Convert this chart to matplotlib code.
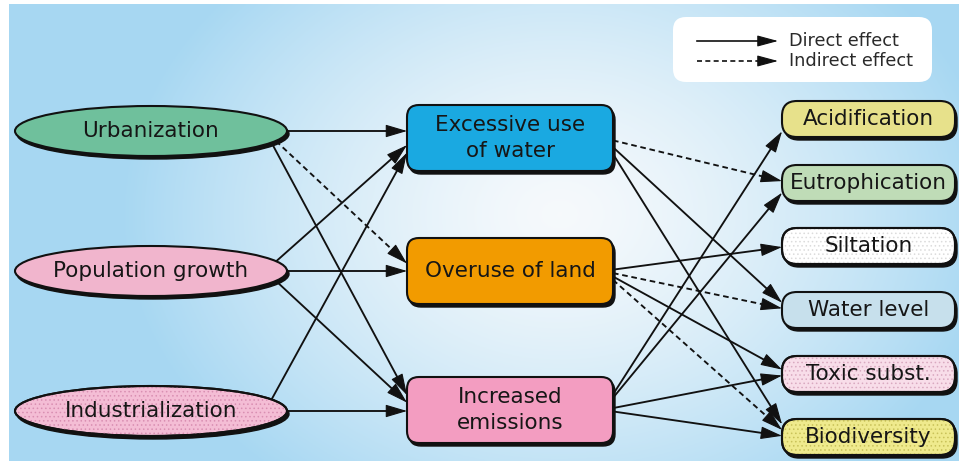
import numpy as np
import matplotlib
matplotlib.use("Agg")
import matplotlib.pyplot as plt
from matplotlib.patches import Ellipse, FancyBboxPatch

# ---------------- data ----------------
drivers = ["Urbanization", "Population growth", "Industrialization"]
pressures = ["Excessive use\nof water", "Overuse of land", "Increased\nemissions"]
effects = ["Acidification", "Eutrophication", "Siltation", "Water level",
           "Toxic subst.", "Biodiversity"]
# (driver index, pressure index, kind)  d = direct, i = indirect
driver_edges = [(0, 0, "d"), (0, 1, "i"), (0, 2, "d"),
                (1, 0, "d"), (1, 1, "d"), (1, 2, "d"),
                (2, 0, "d"), (2, 2, "d")]
# (pressure index, effect index, kind)
pressure_edges = [(0, 1, "i"), (0, 3, "d"), (0, 5, "d"),
                  (1, 2, "d"), (1, 3, "i"), (1, 4, "d"), (1, 5, "i"),
                  (2, 0, "d"), (2, 1, "d"), (2, 4, "d"), (2, 5, "d")]
legend_labels = ["Direct effect", "Indirect effect"]

# ---------------- style / layout ----------------
driver_colors = ["#6fc09c", "#f1b5cd", "#f4bdd5"]
driver_hatch = [None, None, "#d98fb2"]
pressure_colors = ["#1aa9e1", "#f29b00", "#f39dc1"]
effect_colors = ["#e7e18b", "#bfdcb7", "#ffffff", "#c7e0ec", "#f8dde9", "#efea8d"]
effect_hatch = [None, None, "#dcdcdc", None, "#d9a9c0", "#c9c25a"]

W, H = 959, 461
ell_cx, ell_w, ell_h = 151, 272, 50
ell_cy = [131, 271, 411]
mid_x0, mid_w, mid_h = 407, 206, 66
mid_cy = [138, 271, 410]
r_x0, r_w, r_h = 782, 173, 36
r_cy = [119, 183, 246, 310, 374, 437]

TXT = "#161616"
FONT = "DejaVu Sans"
FS = 15.5
plt.rcParams["hatch.linewidth"] = 0.6

fig = plt.figure(figsize=(W / 100, H / 100), dpi=100)
ax = fig.add_axes([0, 0, 1, 1])
ax.set_xlim(0, W)
ax.set_ylim(H, 0)
ax.axis("off")

# background radial gradient
gx, gy = np.meshgrid(np.linspace(9, W, 400), np.linspace(5, H, 200))
r = np.sqrt(((gx - 560) / 440) ** 2 + ((gy - 215) / 340) ** 2)
t = np.clip(r, 0, 1) ** 1.4
c0 = np.array([0.965, 0.978, 0.988])
c1 = np.array([0.655, 0.845, 0.95])
img = c0[None, None, :] * (1 - t[..., None]) + c1[None, None, :] * t[..., None]
ax.imshow(img, extent=(9, W, H, 5), origin="upper", aspect="auto", zorder=0)


def arrow(p0, p1, kind, lw=1.35):
    p0 = np.asarray(p0, float)
    p1 = np.asarray(p1, float)
    u = (p1 - p0) / np.hypot(*(p1 - p0))
    hl = 19
    end = p1 - u * hl * 0.6
    ls = "-" if kind == "d" else (0, (3, 2))
    ax.plot([p0[0], end[0]], [p0[1], end[1]], color="#111", lw=lw,
            linestyle=ls, zorder=2, solid_capstyle="butt")
    ax.annotate("", xy=p1, xytext=p1 - u * hl,
                arrowprops=dict(arrowstyle="-|>,head_length=1.35,head_width=0.4",
                                mutation_scale=10, lw=0.8, color="#111",
                                shrinkA=0, shrinkB=0), zorder=3)


def rbox(x0, y0, w, h, rs, fc, hatch=None, z=4):
    style = f"round,pad=0,rounding_size={rs}"
    ax.add_patch(FancyBboxPatch((x0 + 2, y0 + 3), w, h, boxstyle=style,
                                fc="#111", ec="#111", lw=1.0, zorder=z))
    ax.add_patch(FancyBboxPatch((x0, y0), w, h, boxstyle=style,
                                fc=fc, ec="#111", lw=1.5, zorder=z + 0.1))
    if hatch:
        ax.add_patch(FancyBboxPatch((x0, y0), w, h, boxstyle=style,
                                    fc="none", ec=hatch, lw=0, hatch="....",
                                    zorder=z + 0.2))
        ax.add_patch(FancyBboxPatch((x0, y0), w, h, boxstyle=style,
                                    fc="none", ec="#111", lw=1.5, zorder=z + 0.3))


# ---------------- edges: drivers -> pressures ----------------
a, b = ell_w / 2, ell_h / 2
for si, ti, kind in driver_edges:
    S = np.array([ell_cx + 0.84 * a, ell_cy[si]])
    ty_ = ell_cy[si] if si == ti else mid_cy[ti]
    T = np.array([mid_x0 + 8, ty_])
    d = T - S
    A = (d[0] / a) ** 2 + (d[1] / b) ** 2
    B = 2 * ((S[0] - ell_cx) * d[0] / a ** 2 + (S[1] - ell_cy[si]) * d[1] / b ** 2)
    C = ((S[0] - ell_cx) / a) ** 2 + ((S[1] - ell_cy[si]) / b) ** 2 - 1
    t0 = (-B + np.sqrt(B * B - 4 * A * C)) / (2 * A)
    p0 = S + t0 * d
    t1 = (mid_x0 - S[0]) / d[0]
    p1 = S + t1 * d
    arrow(p0, p1, kind)

# ---------------- edges: pressures -> effects ----------------
for si, ti, kind in pressure_edges:
    S = np.array([mid_x0 + mid_w - 10, mid_cy[si]])
    T = np.array([r_x0 + 8, r_cy[ti]])
    d = T - S
    tx = (mid_x0 + mid_w - S[0]) / d[0]
    ty = (mid_h / 2) / abs(d[1]) if d[1] != 0 else np.inf
    p0 = S + min(tx, ty) * d
    t1 = (r_x0 - S[0]) / d[0]
    p1 = S + t1 * d
    arrow(p0, p1, kind)

# ---------------- nodes ----------------
for name, cy, fc, hc in zip(drivers, ell_cy, driver_colors, driver_hatch):
    ax.add_patch(Ellipse((ell_cx + 2, cy + 3), ell_w, ell_h, fc="#111", ec="#111",
                         lw=1.0, zorder=4))
    ax.add_patch(Ellipse((ell_cx, cy), ell_w, ell_h, fc=fc, ec="#111", lw=1.5,
                         zorder=4.1))
    if hc:
        ax.add_patch(Ellipse((ell_cx, cy), ell_w, ell_h, fc="none", ec=hc, lw=0,
                             hatch="....", zorder=4.2))
        ax.add_patch(Ellipse((ell_cx, cy), ell_w, ell_h, fc="none", ec="#111",
                             lw=1.5, zorder=4.3))
    ax.text(ell_cx, cy, name, ha="center", va="center", fontsize=FS,
            color=TXT, family=FONT, zorder=6)

for name, cy, fc in zip(pressures, mid_cy, pressure_colors):
    rbox(mid_x0, cy - mid_h / 2, mid_w, mid_h, 12, fc)
    ax.text(mid_x0 + mid_w / 2, cy, name, ha="center", va="center",
            fontsize=FS, color=TXT, family=FONT, linespacing=1.38, zorder=6)

for name, cy, fc, hc in zip(effects, r_cy, effect_colors, effect_hatch):
    rbox(r_x0, cy - r_h / 2, r_w, r_h, 15, fc, hc)
    ax.text(r_x0 + r_w / 2, cy, name, ha="center", va="center",
            fontsize=FS, color=TXT, family=FONT, zorder=6)

# ---------------- legend ----------------
ax.add_patch(FancyBboxPatch((673, 17), 259, 65,
                            boxstyle="round,pad=0,rounding_size=13",
                            fc="white", ec="none", zorder=5))
for lab, ly, kind in zip(legend_labels, [41, 61], ["d", "i"]):
    p0 = np.array([697, ly])
    p1 = np.array([778, ly])
    u = np.array([1.0, 0.0])
    ls = "-" if kind == "d" else (0, (3, 2))
    ax.plot([p0[0], p1[0] - 8], [ly, ly], color="#111", lw=1.2, linestyle=ls,
            zorder=6)
    ax.annotate("", xy=p1, xytext=p1 - u * 18,
                arrowprops=dict(arrowstyle="-|>,head_length=1.3,head_width=0.35",
                                mutation_scale=10, lw=0.8, color="#111",
                                shrinkA=0, shrinkB=0), zorder=7)
    ax.text(789, ly, lab, ha="left", va="center", fontsize=12.8, color="#2a2a2a",
            family=FONT, zorder=7)

fig.savefig("out.png", dpi=100, facecolor="white")
